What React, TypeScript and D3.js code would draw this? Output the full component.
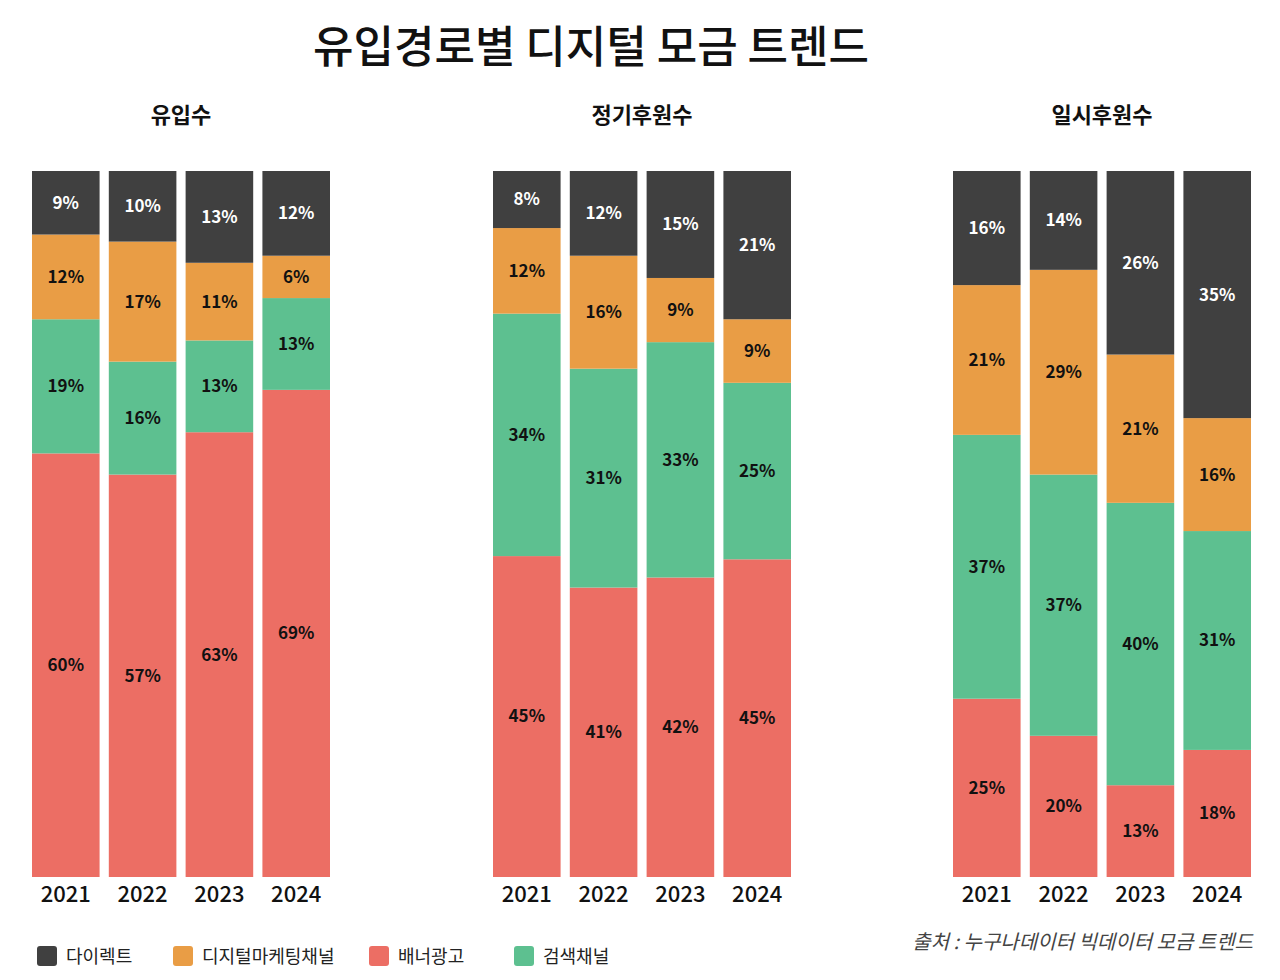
import * as d3 from 'd3'

const years = ['2021', '2022', '2023', '2024']
const panels = ['유입수', '정기후원수', '일시후원수']
const seriesKeys = ['banner', 'search', 'digital', 'direct']
const seriesNames = ['배너광고', '검색채널', '디지털마케팅채널', '다이렉트']
const seriesColors = ['#ec6e64', '#5dc090', '#e99d45', '#404040']
const legendOrder = [3, 2, 0, 1]

// values per panel, per year: [banner, search, digital, direct]
const inflow = [[60, 19, 12, 9], [57, 16, 17, 10], [63, 13, 11, 13], [69, 13, 6, 12]]
const regular = [[45, 34, 12, 8], [41, 31, 16, 12], [42, 33, 9, 15], [45, 25, 9, 21]]
const oneTime = [[25, 37, 21, 16], [20, 37, 29, 14], [13, 40, 21, 26], [18, 31, 16, 35]]
const panelData = [inflow, regular, oneTime]

const panelLeft = [32, 493, 953]
const panelWidth = 298
const top = 171
const bottom = 877
const font = "'Noto Sans CJK KR', 'Noto Sans', sans-serif"

export default function App() {
  const y = d3.scaleLinear().domain([0, 1]).range([bottom, top])
  return (
    <svg width={1280} height={980} style={{ display: 'block', margin: -8 }} fontFamily={font}>
      <rect width={1280} height={980} fill="#fff" />
      <text x={591} y={63} textAnchor="middle" fontSize={44} fontWeight={500} fill="#111">
        유입경로별 디지털 모금 트렌드
      </text>
      {panelData.map((data, pi) => {
        const x = d3.scaleBand().domain(years).range([panelLeft[pi], panelLeft[pi] + panelWidth]).paddingInner(0.12)
        const rows = data.map((v, i) => {
          const total = d3.sum(v)
          const o: any = { year: years[i] }
          seriesKeys.forEach((k, j) => (o[k] = v[j] / total))
          o.raw = v
          return o
        })
        const stacked = d3.stack<any>().keys(seriesKeys)(rows)
        return (
          <g key={pi}>
            <text x={panelLeft[pi] + panelWidth / 2} y={123} textAnchor="middle" fontSize={22} fontWeight={700} fill="#111">
              {panels[pi]}
            </text>
            {stacked.map((s, si) =>
              s.map((d, di) => {
                const x0 = x(d.data.year)!
                return (
                  <g key={si + '-' + di}>
                    <rect x={x0} y={y(d[1])} width={x.bandwidth()} height={y(d[0]) - y(d[1])} fill={seriesColors[si]} />
                    <text x={x0 + x.bandwidth() / 2} y={(y(d[0]) + y(d[1])) / 2} dy="0.35em" textAnchor="middle"
                      fontSize={17} fontWeight={700} fill={si === 3 ? '#fff' : '#111'}>
                      {d.data.raw[si]}%
                    </text>
                  </g>
                )
              })
            )}
            {years.map(yr => (
              <text key={yr} x={x(yr)! + x.bandwidth() / 2} y={902} textAnchor="middle" fontSize={22} fontWeight={500} fill="#111">
                {yr}
              </text>
            ))}
          </g>
        )
      })}
      {legendOrder.map((si, i) => {
        const lx = [37, 173, 369, 514][i]
        return (
          <g key={si}>
            <rect x={lx} y={946} width={20} height={20} rx={3} fill={seriesColors[si]} />
            <text x={lx + 29} y={963} fontSize={18} fill="#222">{seriesNames[si]}</text>
          </g>
        )
      })}
      <text x={1253} y={949} textAnchor="end" fontSize={20} fontStyle="italic" fill="#444">
        출처 : 누구나데이터 빅데이터 모금 트렌드
      </text>
    </svg>
  )
}
